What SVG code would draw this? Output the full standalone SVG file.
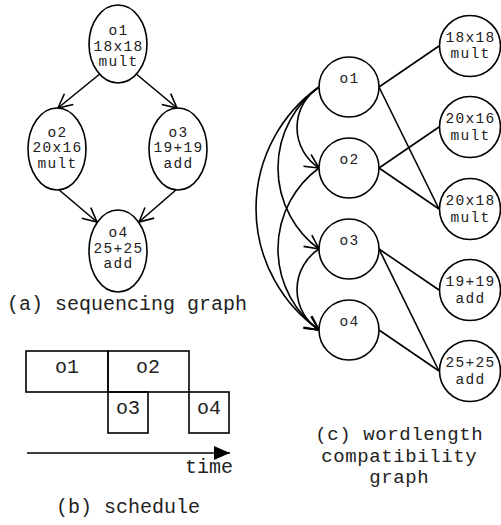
<svg xmlns="http://www.w3.org/2000/svg" width="501" height="525" viewBox="0 0 501 525">
  <style>
    .shape { fill: #fff; stroke: #000; stroke-width: 1.6; }
    .box { fill: none; stroke: #000; stroke-width: 1.6; }
    .edge { fill: none; stroke: #000; stroke-width: 1.6; }
    .arc { fill: none; stroke: #000; stroke-width: 1.6; marker-end: url(#open); }
    .seq { fill: none; stroke: #000; stroke-width: 1.6; marker-end: url(#open); }
    text { font-family: "Liberation Mono", "Courier New", monospace; fill: #222; text-anchor: middle; }
    .n { font-size: 14.5px; letter-spacing: 1.3px; }
    .cap { font-size: 20px; }
    .cap2 { font-size: 19px; letter-spacing: 0.6px; }
  </style>
  <defs>
    <marker id="open" markerUnits="userSpaceOnUse" viewBox="-16 -9 18 18" refX="0" refY="0" markerWidth="18" markerHeight="18" orient="auto">
      <path d="M -14,-7 L 0,0 L -14,7" fill="none" stroke="#000" stroke-width="1.6"/>
    </marker>
    <marker id="solid" markerUnits="userSpaceOnUse" viewBox="-17 -8 18 16" refX="0" refY="0" markerWidth="18" markerHeight="16" orient="auto">
      <path d="M -16,-7 L 0,0 L -16,7 Z" fill="#000"/>
    </marker>
  </defs>

  <!-- (a) sequencing graph -->
  <g id="seq-edges">
    <line class="seq" x1="101" y1="73" x2="58" y2="108"/>
    <line class="seq" x1="135" y1="73" x2="177" y2="108"/>
    <line class="seq" x1="58" y1="189" x2="97" y2="222"/>
    <line class="seq" x1="177" y1="189" x2="139" y2="222"/>
  </g>
  <g id="a-o1">
    <ellipse class="shape" cx="118" cy="44" rx="29" ry="39"/>
    <text class="n" x="118.6" y="35">o1</text>
    <text class="n" x="118.6" y="51">18x18</text>
    <text class="n" x="118.6" y="66">mult</text>
  </g>
  <g id="a-o2">
    <ellipse class="shape" cx="57" cy="149" rx="29" ry="41"/>
    <text class="n" x="57.6" y="137">o2</text>
    <text class="n" x="57.6" y="152">20x16</text>
    <text class="n" x="57.6" y="168">mult</text>
  </g>
  <g id="a-o3">
    <ellipse class="shape" cx="178" cy="149" rx="29" ry="41"/>
    <text class="n" x="178.6" y="137">o3</text>
    <text class="n" x="178.6" y="152">19+19</text>
    <text class="n" x="178.6" y="168">add</text>
  </g>
  <g id="a-o4">
    <ellipse class="shape" cx="118" cy="251" rx="29" ry="41"/>
    <text class="n" x="118.6" y="237">o4</text>
    <text class="n" x="118.6" y="253">25+25</text>
    <text class="n" x="118.6" y="268">add</text>
  </g>
  <text class="cap" x="127" y="310">(a) sequencing graph</text>

  <!-- (b) schedule -->
  <g id="schedule">
    <rect class="box" x="26" y="351" width="82" height="41"/>
    <rect class="box" x="108" y="351" width="81" height="41"/>
    <rect class="box" x="108" y="392" width="40" height="41"/>
    <rect class="box" x="189" y="392" width="40" height="41"/>
    <text class="cap" x="67" y="373">o1</text>
    <text class="cap" x="148" y="373">o2</text>
    <text class="cap" x="128" y="414">o3</text>
    <text class="cap" x="209" y="414">o4</text>
    <line class="edge" x1="27" y1="453" x2="230" y2="453" style="marker-end:url(#solid)"/>
    <text class="cap" x="209" y="473">time</text>
  </g>
  <text class="cap" x="128" y="513">(b) schedule</text>

  <!-- (c) wordlength compatibility graph -->
  <g id="c-edges">
    <line class="edge" x1="379" y1="87" x2="439" y2="46"/>
    <line class="edge" x1="379" y1="87" x2="439" y2="209"/>
    <line class="edge" x1="379" y1="168" x2="439" y2="127"/>
    <line class="edge" x1="379" y1="168" x2="439" y2="209"/>
    <line class="edge" x1="379" y1="249" x2="439" y2="290"/>
    <line class="edge" x1="379" y1="249" x2="439" y2="371"/>
    <line class="edge" x1="379" y1="330" x2="439" y2="371"/>
    <!-- precedence arcs -->
    <path class="arc" d="M 319,87 A 48.3,48.3 0 0 0 319,168"/>
    <path class="arc" d="M 319,87 A 100.5,100.5 0 0 0 319,249"/>
    <path class="arc" d="M 319,87 A 148.7,148.7 0 0 0 319,330"/>
    <path class="arc" d="M 319,168 A 100.5,100.5 0 0 0 319,330"/>
    <path class="arc" d="M 319,249 A 48.3,48.3 0 0 0 319,330"/>
  </g>
  <g id="c-o1">
    <circle class="shape" cx="349" cy="87" r="30"/>
    <text class="n" x="349.6" y="83">o1</text>
  </g>
  <g id="c-o2">
    <circle class="shape" cx="349" cy="168" r="30"/>
    <text class="n" x="349.6" y="164">o2</text>
  </g>
  <g id="c-o3">
    <circle class="shape" cx="349" cy="249" r="30"/>
    <text class="n" x="349.6" y="245">o3</text>
  </g>
  <g id="c-o4">
    <circle class="shape" cx="349" cy="330" r="30"/>
    <text class="n" x="349.6" y="326">o4</text>
  </g>
  <g id="c-w1">
    <circle class="shape" cx="470" cy="46" r="30.5"/>
    <text class="n" x="470.6" y="42">18x18</text>
    <text class="n" x="470.6" y="58">mult</text>
  </g>
  <g id="c-w2">
    <circle class="shape" cx="470" cy="127" r="30.5"/>
    <text class="n" x="470.6" y="123">20x16</text>
    <text class="n" x="470.6" y="140">mult</text>
  </g>
  <g id="c-w3">
    <circle class="shape" cx="470" cy="209" r="30.5"/>
    <text class="n" x="470.6" y="205">20x18</text>
    <text class="n" x="470.6" y="222">mult</text>
  </g>
  <g id="c-w4">
    <circle class="shape" cx="470" cy="290" r="30.5"/>
    <text class="n" x="470.6" y="286">19+19</text>
    <text class="n" x="470.6" y="303">add</text>
  </g>
  <g id="c-w5">
    <circle class="shape" cx="470" cy="371" r="30.5"/>
    <text class="n" x="470.6" y="367">25+25</text>
    <text class="n" x="470.6" y="384">add</text>
  </g>
  <text class="cap2" x="399.3" y="440">(c) wordlength</text>
  <text class="cap2" x="399.3" y="461.5">compatibility</text>
  <text class="cap2" x="399.3" y="483">graph</text>
</svg>
